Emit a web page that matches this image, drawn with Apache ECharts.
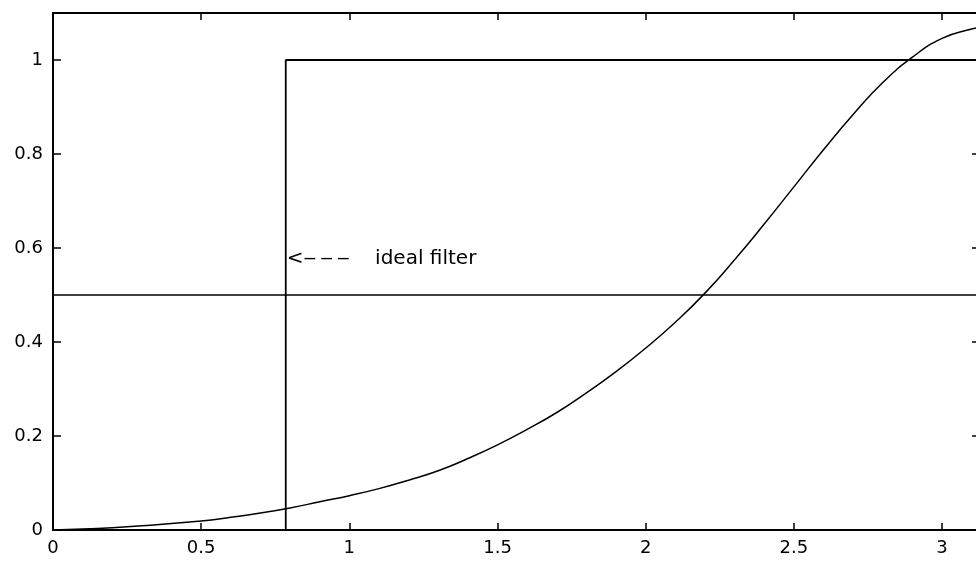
<!DOCTYPE html>
<html>
<head>
<meta charset="utf-8">
<script src="https://cdn.jsdelivr.net/npm/echarts@6/dist/echarts.min.js"></script>
<style>
  html, body { margin: 0; padding: 0; background: #fff; }
  #main { width: 976px; height: 565px; }
</style>
</head>
<body>
<div id="main"></div>
<script>
// frequency grid (rad) and filter magnitude
var freq = [0, 0.1, 0.2, 0.3, 0.4, 0.5, 0.6, 0.7, 0.8, 0.9, 1.0, 1.1, 1.2, 1.3, 1.4, 1.5,
  1.6, 1.7, 1.8, 1.9, 2.0, 2.1, 2.2, 2.3, 2.4, 2.5, 2.6, 2.7, 2.8, 2.9, 3.0, 3.1, 3.1416]
var response = [0, 0.002, 0.005, 0.009, 0.014, 0.019, 0.027, 0.036, 0.047, 0.060, 0.073, 0.088,
  0.106, 0.126, 0.152, 0.181, 0.214, 0.250, 0.292, 0.337, 0.387, 0.442, 0.504, 0.575, 0.651,
  0.730, 0.809, 0.884, 0.952, 1.006, 1.046, 1.066, 1.071]

// ideal filter: cutoff at pi/4
var idealX = [0, 0.7854, 0.7854, 3.1416]
var idealY = [0, 0, 1, 1]

// half-power reference line
var halfX = [0, 3.1416]
var halfY = [0.5, 0.5]

var xTicks = [0, 0.5, 1, 1.5, 2, 2.5, 3]
var yTicks = [0, 0.2, 0.4, 0.6, 0.8, 1]

function pairs (xs, ys) {
  var out = []
  for (var i = 0; i < xs.length; i++) out.push([xs[i], ys[i]])
  return out
}

var font = 'DejaVu Sans'
var chart = echarts.init(document.getElementById('main'))

function frameAxis (extra) {
  var ax = {
    type: 'value',
    axisLine: { show: true, onZero: false, lineStyle: { color: '#000', width: 2 } },
    axisTick: { inside: true, length: 8, lineStyle: { color: '#000', width: 1.5 } },
    splitLine: { show: false }
  }
  for (var k in extra) ax[k] = extra[k]
  return ax
}

chart.setOption({
  animation: false,
  // the right edge of the plot lies just past the window, as in the source
  grid: { left: 53, top: 13, width: 931, height: 517, outerBoundsMode: 'none', containLabel: false },
  xAxis: [
    frameAxis({
      min: 0, max: 3.1416, position: 'bottom',
      axisTick: { inside: true, length: 7, customValues: xTicks, lineStyle: { color: '#000', width: 1.5 } },
      axisLabel: { customValues: xTicks, color: '#000', fontSize: 18, fontFamily: font, margin: 9 }
    }),
    frameAxis({
      min: 0, max: 3.1416, position: 'top',
      axisTick: { inside: true, length: 7, customValues: xTicks, lineStyle: { color: '#000', width: 1.5 } },
      axisLabel: { show: false }
    })
  ],
  yAxis: [
    frameAxis({
      min: 0, max: 1.1, position: 'left',
      axisTick: { inside: true, length: 8, customValues: yTicks, lineStyle: { color: '#000', width: 1.5 } },
      axisLabel: { customValues: yTicks, color: '#000', fontSize: 18, fontFamily: font, margin: 10 }
    }),
    frameAxis({
      min: 0, max: 1.1, position: 'right',
      axisTick: { inside: true, length: 12, customValues: yTicks, lineStyle: { color: '#000', width: 1.5 } },
      axisLabel: { show: false }
    })
  ],
  series: [{
    type: 'line',
    data: pairs(halfX, halfY),
    symbol: 'none',
    lineStyle: { color: '#000', width: 1.3 }
  }, {
    type: 'line',
    data: pairs(idealX, idealY),
    symbol: 'none',
    lineStyle: { color: '#000', width: 1.8 },
    markPoint: {
      symbol: 'circle',
      symbolSize: 0,
      data: [{ coord: [0.7854, 0.577] }],
      label: {
        show: true,
        position: 'right',
        distance: 1,
        formatter: '<\u2012\u2009\u2012\u2009\u2012    ideal filter',
        color: '#000',
        fontSize: 20,
        fontFamily: font
      }
    }
  }, {
    type: 'line',
    data: pairs(freq, response),
    symbol: 'none',
    smooth: true,
    lineStyle: { color: '#000', width: 1.5 }
  }]
})
</script>
</body>
</html>
